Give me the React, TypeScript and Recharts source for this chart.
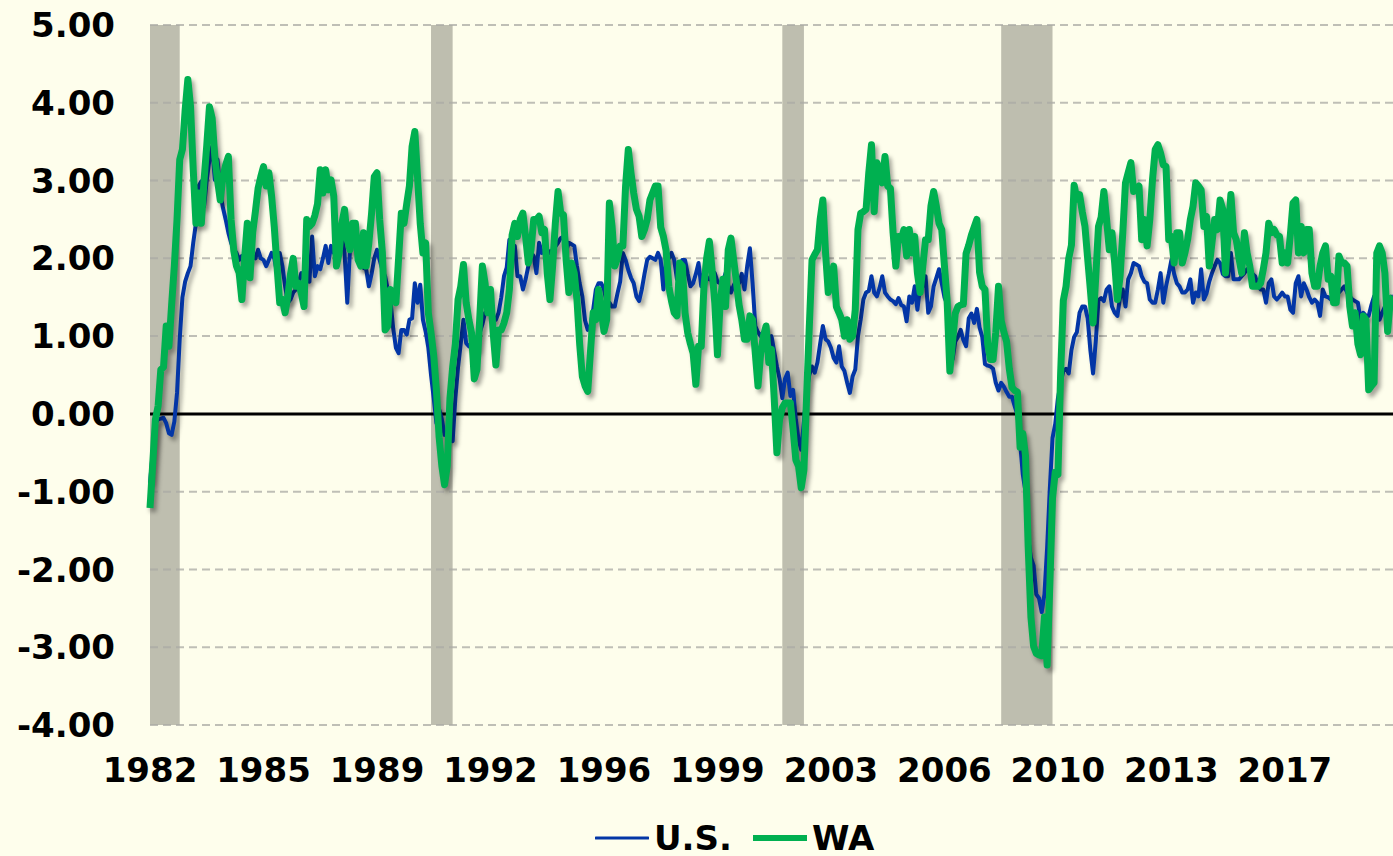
import React from 'react';
import { LineChart, Line, XAxis, YAxis, Legend, ReferenceArea, ReferenceLine } from 'recharts';

const BG = '#FEFEEC';
const FONT = 'DejaVu Sans';

const years = [
  1982, 1983, 1984, 1985, 1986, 1987, 1988, 1989, 1990, 1991, 1992, 1993, 1994,
  1995, 1996, 1997, 1998, 1999, 2000, 2001, 2002, 2003, 2004, 2005, 2006, 2007,
  2008, 2009, 2010, 2011, 2012, 2013, 2014, 2015, 2016, 2017, 2018, 2019, 2020,
];

// monthly values, one row per year (2020 runs to May)
const usByYear = [
  [-0.89, -0.5, -0.12, -0.07, -0.06, -0.05, -0.12, -0.25, -0.27, -0.1, 0.27, 0.96],
  [1.5, 1.7, 1.81, 1.9, 2.2, 2.45, 2.93, 2.99, 2.67, 3.0, 3.27, 3.44],
  [3.01, 3.27, 2.84, 2.65, 2.5, 2.33, 2.2, 2.11, 2.07, 1.98, 2.03, 1.86],
  [1.98, 2.0, 2.03, 2.0, 2.11, 2.0, 1.98, 1.9, 1.98, 2.07, 2.0, 1.81],
  [2.07, 1.9, 1.64, 1.43, 1.47, 1.56, 1.6, 1.68, 1.81, 1.78, 1.73, 1.7],
  [2.28, 1.77, 1.9, 1.86, 2.0, 2.16, 1.94, 2.16, 2.07, 2.1, 2.2, 2.28],
  [2.07, 1.43, 2.11, 2.2, 2.33, 2.07, 1.9, 1.88, 1.86, 1.64, 1.8, 2.0],
  [2.11, 1.98, 1.85, 1.77, 1.6, 1.45, 1.1, 0.85, 0.78, 1.08, 1.08, 1.02],
  [1.21, 1.23, 1.68, 1.43, 1.66, 1.21, 1.06, 0.85, 0.5, 0.2, -0.12, 0.06],
  [-0.07, -0.27, -0.24, -0.3, -0.35, 0.2, 0.6, 0.9, 1.21, 0.91, 0.87, 0.85],
  [0.83, 0.83, 1.04, 1.15, 1.3, 1.3, 1.28, 1.21, 1.21, 1.3, 1.5, 1.77],
  [1.88, 2.24, 2.07, 2.16, 1.77, 1.77, 1.6, 1.73, 1.9, 2.07, 2.03, 1.81],
  [2.2, 2.07, 2.1, 2.11, 2.07, 2.11, 2.15, 2.2, 2.26, 2.28, 2.1, 2.2],
  [2.18, 2.16, 1.9, 1.68, 1.51, 1.2, 1.08, 1.13, 1.34, 1.6, 1.68, 1.68],
  [1.6, 1.43, 1.43, 1.38, 1.38, 1.55, 1.7, 2.07, 1.98, 1.85, 1.75, 1.68],
  [1.51, 1.45, 1.6, 1.8, 1.98, 2.02, 2.0, 1.98, 2.07, 1.98, 1.6, 1.98],
  [2.0, 2.07, 1.98, 1.73, 1.85, 1.98, 1.98, 1.8, 1.64, 1.68, 1.8, 1.94],
  [1.64, 1.81, 1.75, 1.73, 1.81, 1.81, 1.7, 1.68, 1.7, 1.81, 1.65, 1.56],
  [1.65, 1.73, 1.68, 1.8, 1.6, 1.9, 2.13, 1.68, 1.13, 1.05, 1.0, 1.05],
  [1.13, 0.87, 1.0, 0.8, 0.61, 0.45, 0.2, 0.45, 0.53, 0.23, 0.31, -0.07],
  [-0.33, -0.46, -0.1, 0.3, 0.5, 0.61, 0.53, 0.66, 0.9, 1.13, 0.96, 0.93],
  [0.85, 0.72, 0.66, 0.87, 0.61, 0.55, 0.4, 0.27, 0.48, 0.57, 1.0, 1.21],
  [1.47, 1.56, 1.58, 1.77, 1.56, 1.51, 1.62, 1.77, 1.56, 1.51, 1.47, 1.45],
  [1.41, 1.49, 1.4, 1.38, 1.19, 1.51, 1.43, 1.64, 1.34, 1.64, 1.64, 1.77],
  [1.3, 1.38, 1.64, 1.75, 1.86, 1.68, 1.5, 1.41, 1.1, 0.7, 0.93, 0.99],
  [1.08, 0.95, 0.87, 1.23, 1.29, 1.17, 1.35, 1.11, 0.99, 0.64, 0.62, 0.61],
  [0.58, 0.4, 0.3, 0.4, 0.35, 0.28, 0.22, 0.22, 0.1, -0.01, -0.37, -0.78],
  [-1.0, -1.6, -1.85, -1.95, -2.32, -2.37, -2.55, -2.32, -1.72, -0.96, -0.31, -0.13],
  [0.2, 0.4, 0.55, 0.58, 0.52, 0.82, 0.99, 1.05, 1.3, 1.38, 1.38, 1.23],
  [0.82, 0.52, 0.93, 1.46, 1.49, 1.45, 1.6, 1.64, 1.38, 1.3, 1.26, 1.5],
  [1.6, 1.38, 1.73, 1.81, 1.94, 1.92, 1.9, 1.77, 1.7, 1.68, 1.47, 1.43],
  [1.43, 1.6, 1.81, 1.43, 1.64, 1.8, 1.98, 1.8, 1.68, 1.64, 1.56, 1.56],
  [1.6, 1.73, 1.43, 1.56, 1.51, 1.86, 1.47, 1.55, 1.7, 1.81, 1.9, 1.98],
  [1.94, 1.8, 1.77, 1.77, 2.07, 1.73, 1.73, 1.73, 1.77, 1.81, 1.86, 1.88],
  [1.8, 1.77, 1.65, 1.6, 1.6, 1.43, 1.68, 1.73, 1.51, 1.47, 1.51, 1.56],
  [1.51, 1.51, 1.34, 1.3, 1.68, 1.77, 1.51, 1.68, 1.6, 1.5, 1.43, 1.47],
  [1.43, 1.26, 1.6, 1.51, 1.5, 1.47, 1.6, 1.64, 1.56, 1.6, 1.64, 1.56],
  [1.51, 1.47, 1.45, 1.43, 1.21, 1.3, 1.26, 1.26, 1.4, 1.51, 1.43, 1.21],
  [1.3, 1.38, 1.47, 1.5, 1.51],
];

const waByYear = [
  [-1.21, -0.65, -0.07, 0.1, 0.57, 0.6, 1.13, 0.87, 1.4, 1.9, 2.5, 3.27],
  [3.4, 3.9, 4.3, 3.95, 3.14, 2.45, 2.84, 2.45, 3.0, 3.45, 3.95, 3.8],
  [3.3, 3.0, 2.75, 3.05, 3.2, 3.31, 2.5, 2.1, 1.9, 1.81, 1.47, 2.0],
  [2.45, 1.75, 2.33, 2.6, 2.9, 3.05, 3.18, 2.93, 3.1, 2.8, 2.4, 1.9],
  [1.43, 1.47, 1.3, 1.51, 1.8, 2.0, 1.64, 1.68, 1.55, 1.38, 2.5, 2.41],
  [2.45, 2.55, 2.7, 3.14, 2.84, 3.14, 2.88, 3.01, 2.8, 1.9, 2.07, 2.45],
  [2.63, 2.24, 2.11, 2.45, 2.45, 1.98, 1.9, 2.33, 1.9, 2.2, 2.58, 3.05],
  [3.1, 2.5, 2.07, 1.08, 1.13, 1.6, 1.51, 1.43, 2.0, 2.58, 2.45, 2.7],
  [2.93, 3.44, 3.63, 3.05, 2.45, 2.07, 2.2, 1.3, 1.04, 0.75, 0.3, -0.3],
  [-0.67, -0.91, -0.67, 0.2, 0.6, 0.9, 1.47, 1.64, 1.92, 1.43, 1.21, 1.04],
  [0.45, 0.57, 1.21, 1.9, 1.68, 1.3, 1.6, 1.04, 0.63, 1.08, 1.08, 1.17],
  [1.3, 1.6, 2.3, 2.45, 2.28, 2.5, 2.58, 2.28, 1.94, 2.11, 2.5, 2.5],
  [2.54, 2.33, 2.37, 1.81, 1.47, 1.9, 2.45, 2.86, 2.58, 2.56, 1.98, 1.56],
  [1.94, 1.81, 1.47, 0.9, 0.48, 0.36, 0.29, 0.8, 1.3, 1.21, 1.6, 1.34],
  [1.06, 1.21, 2.71, 2.41, 1.9, 2.0, 2.16, 2.16, 2.93, 3.4, 3.1, 2.84],
  [2.63, 2.54, 2.28, 2.37, 2.5, 2.75, 2.84, 2.93, 2.93, 2.4, 2.28, 2.1],
  [1.64, 1.45, 1.3, 1.26, 1.94, 1.9, 1.3, 1.04, 0.9, 0.78, 0.38, 0.87],
  [0.87, 1.64, 2.0, 2.22, 1.86, 1.43, 0.76, 1.43, 1.73, 1.38, 2.11, 2.26],
  [1.98, 1.7, 1.4, 1.21, 0.96, 0.96, 1.26, 1.21, 0.78, 0.36, 0.78, 1.0],
  [1.13, 0.66, 0.83, 0.2, -0.5, -0.07, 0.08, 0.14, 0.14, 0.14, -0.2, -0.59],
  [-0.67, -0.95, -0.72, 0.23, 1.13, 1.98, 2.05, 2.11, 2.5, 2.75, 2.07, 1.56],
  [1.68, 1.9, 1.38, 1.3, 1.21, 1.0, 1.21, 0.96, 1.0, 1.34, 2.37, 2.58],
  [2.6, 2.63, 3.1, 3.46, 2.6, 3.23, 3.14, 2.97, 3.31, 2.93, 2.9, 2.33],
  [1.9, 2.28, 2.24, 2.37, 2.03, 2.37, 2.07, 2.28, 1.81, 1.56, 1.9, 2.24],
  [2.24, 2.67, 2.86, 2.67, 2.45, 2.37, 1.9, 1.45, 0.55, 0.93, 1.29, 1.38],
  [1.4, 1.41, 2.06, 2.17, 2.3, 2.4, 2.5, 1.82, 1.64, 1.6, 0.9, 0.7],
  [0.7, 1.05, 1.64, 1.2, 1.05, 0.93, 0.58, 0.34, 0.3, 0.28, -0.43, -0.25],
  [-0.54, -1.72, -2.61, -2.99, -3.08, -3.1, -3.11, -2.61, -3.23, -2.2, -1.08, -0.75],
  [-0.78, 0.52, 1.46, 1.64, 2.0, 2.17, 2.94, 2.76, 2.82, 2.6, 2.41, 2.0],
  [1.6, 1.17, 1.76, 2.41, 2.53, 2.86, 2.5, 2.11, 2.33, 1.94, 1.47, 1.77],
  [2.33, 2.97, 3.1, 3.23, 2.86, 2.88, 2.93, 2.24, 2.5, 2.16, 2.5, 3.01],
  [3.4, 3.46, 3.35, 3.2, 3.18, 2.24, 2.28, 1.94, 2.33, 2.33, 1.94, 2.07],
  [2.24, 2.5, 2.67, 2.97, 2.93, 2.88, 2.41, 2.54, 1.9, 2.2, 2.5, 2.37],
  [2.75, 2.63, 1.81, 2.33, 2.82, 2.33, 2.24, 2.0, 1.81, 2.33, 2.07, 1.9],
  [1.64, 1.64, 1.64, 1.68, 1.86, 2.07, 2.45, 2.33, 2.37, 2.3, 2.28, 1.94],
  [2.07, 1.94, 2.3, 2.71, 2.75, 2.07, 2.41, 2.07, 2.37, 2.37, 1.81, 1.64],
  [1.64, 1.9, 2.07, 2.16, 1.73, 1.77, 1.43, 1.43, 2.03, 1.94, 1.94, 1.9],
  [1.38, 1.13, 1.3, 0.9, 0.76, 1.26, 1.21, 0.31, 0.36, 0.4, 2.07, 2.16],
  [2.07, 1.81, 1.06, 1.47, 1.51],
];

const yTicks = [-4, -3, -2, -1, 0, 1, 2, 3, 4, 5];

// shaded recession periods, as drawn
const recessions = [
  ['1982-01', '1982-12'],
  ['1990-09', '1991-05'],
  ['2001-07', '2002-03'],
  ['2008-04', '2009-11'],
];

const series = [
  { key: 'us', name: 'U.S.', color: '#0336A6', width: 4 },
  { key: 'wa', name: 'WA', color: '#00B050', width: 7 },
];

const data = years.flatMap((year, r) =>
  usByYear[r].map((us, m) => ({
    month: `${year}-${String(m + 1).padStart(2, '0')}`,
    us,
    wa: waByYear[r][m],
  }))
);

const tickStyle = { fill: '#000', fontSize: 34, fontWeight: 700, fontFamily: FONT };

const LegendContent = () => (
  <div
    style={{
      height: 62,
      paddingTop: 26,
      paddingLeft: 595,
      boxSizing: 'border-box',
      display: 'flex',
      alignItems: 'center',
      fontFamily: FONT,
      fontWeight: 700,
      fontSize: 34,
      color: '#000',
    }}
  >
    {series.map((s, i) => (
      <div key={s.key} style={{ display: 'flex', alignItems: 'center', marginLeft: i ? 21 : 0 }}>
        <svg width={54} height={10} style={{ marginRight: 5 }}>
          <line x1={1} y1={5} x2={53} y2={5} stroke={s.color} strokeWidth={s.width - 1} strokeLinecap="round" />
        </svg>
        <span>{s.name}</span>
      </div>
    ))}
  </div>
);

export default function App() {
  return (
    <div style={{ width: 1393, height: 856, background: BG }}>
      <style>{`body{margin:0;background:${BG}} .recharts-line-curve{filter:drop-shadow(3px 4px 2px rgba(0,0,0,0.35))}`}</style>
      <LineChart width={1393} height={856} data={data} margin={{ top: 25, right: 0, bottom: 0, left: 0 }}>
        {recessions.map(([from, to]) => (
          <ReferenceArea key={from} x1={from} x2={to} fill="#BEBEAF" fillOpacity={1} stroke="none" />
        ))}
        {/* dashed gridlines drawn over the shaded bands */}
        {yTicks
          .filter((t) => t !== 0)
          .map((t) => (
            <ReferenceLine key={t} y={t} stroke="#A9A9A4" strokeOpacity={0.75} strokeDasharray="8 5" strokeWidth={2} />
          ))}
        <XAxis
          dataKey="month"
          interval={41}
          tickFormatter={(v: string) => v.slice(0, 4)}
          axisLine={false}
          tickLine={false}
          tickSize={0}
          tickMargin={33}
          height={69}
          tick={tickStyle}
        />
        <YAxis
          domain={[-4, 5]}
          ticks={yTicks}
          tickFormatter={(v: number) => v.toFixed(2)}
          axisLine={false}
          tickLine={false}
          tickSize={0}
          tickMargin={35}
          width={150}
          tick={tickStyle}
        />
        <ReferenceLine y={0} stroke="#000" strokeWidth={3} />
        {series.map((s) => (
          <Line
            key={s.key}
            type="linear"
            dataKey={s.key}
            name={s.name}
            stroke={s.color}
            strokeWidth={s.width}
            strokeLinejoin="round"
            dot={false}
            activeDot={false}
            isAnimationActive={false}
          />
        ))}
        <Legend verticalAlign="bottom" height={62} wrapperStyle={{ left: 0, width: 1393 }} content={<LegendContent />} />
      </LineChart>
    </div>
  );
}
